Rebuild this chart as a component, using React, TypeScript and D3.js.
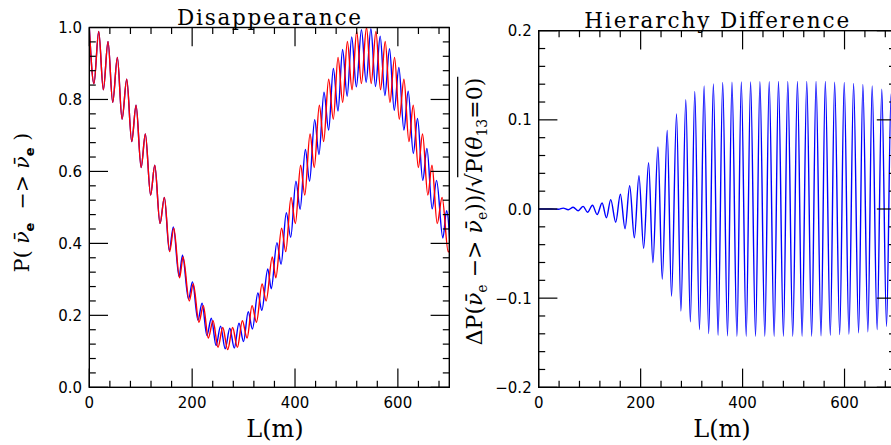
import React, { useEffect, useRef, useState } from 'react';
import * as d3 from 'd3';

const W = 891;
const H = 445;

// ---- Left panel: P(anti-nu_e -> anti-nu_e), extrema ----
const redL = [0, 9.1, 18.3, 27.3, 36.4, 45.5, 54.6, 63.7, 72.8, 82.5, 90.9, 100.8, 109.0, 119.2, 127.3, 137.5, 146.0, 156.2, 164.3, 175.5,
  182.4, 194.4, 202.2, 213.2, 221.7, 231.4, 240.6, 250.3, 259.5, 269.1, 278.7, 287.9, 297.6, 306.8, 316.5, 325.0, 336.0, 343.8, 355.8, 362.7,
  373.9, 382.0, 392.2, 400.7, 410.9, 419.0, 429.2, 437.4, 447.3, 455.7, 465.4, 474.5, 483.6, 492.7, 501.8, 510.9, 519.9, 529.1, 539.0, 548.1,
  557.3, 566.3, 575.4, 584.5, 593.6, 602.7, 611.8, 621.5, 629.9, 639.8, 648.0, 658.2, 666.3, 676.5, 686.0, 698.0, 706.0];
const redP = [1.000, 0.844, 0.989, 0.827, 0.961, 0.792, 0.917, 0.745, 0.856, 0.683, 0.784, 0.611, 0.704, 0.534, 0.617, 0.455, 0.528, 0.377, 0.442, 0.304,
  0.362, 0.240, 0.287, 0.181, 0.227, 0.137, 0.185, 0.111, 0.166, 0.105, 0.166, 0.111, 0.185, 0.137, 0.227, 0.181, 0.287, 0.240, 0.362, 0.304,
  0.442, 0.377, 0.528, 0.455, 0.617, 0.534, 0.704, 0.611, 0.784, 0.683, 0.856, 0.745, 0.917, 0.792, 0.961, 0.827, 0.989, 0.844, 1.000, 0.844,
  0.989, 0.827, 0.961, 0.792, 0.917, 0.745, 0.856, 0.683, 0.784, 0.611, 0.704, 0.534, 0.617, 0.455, 0.528, 0.376, 0.442];

const blueL = [0, 9.1, 18.3, 27.3, 36.4, 45.5, 54.6, 63.7, 72.8, 82.5, 90.9, 100.8, 109.0, 119.2, 127.3, 137.5, 146.0,
  155.5, 163.4, 174.5, 181.2, 192.9, 200.6, 211.2, 219.3, 228.6, 237.3, 246.5, 255.2, 264.2, 273.2, 281.9, 291.0, 299.9, 309.0,
  317.2, 327.8, 335.4, 347.1, 353.8, 364.8, 372.9, 383.1, 391.6, 401.8, 409.9, 420.1, 428.3, 438.2, 446.6, 456.3, 465.4, 474.5,
  483.6, 492.5, 501.4, 510.2, 519.3, 529.2, 538.3, 547.5, 556.5, 565.6, 574.7, 583.8, 592.9, 602.0, 611.7, 620.1, 630.0, 638.2,
  648.4, 656.5, 666.7, 675.2, 687.5, 694.7, 704.7];
const blueP = [1.000, 0.844, 0.989, 0.827, 0.961, 0.792, 0.917, 0.745, 0.856, 0.683, 0.784, 0.611, 0.704, 0.534, 0.617, 0.455, 0.528,
  0.380, 0.446, 0.308, 0.367, 0.245, 0.293, 0.187, 0.234, 0.144, 0.192, 0.116, 0.170, 0.107, 0.164, 0.109, 0.178, 0.127, 0.210,
  0.162, 0.262, 0.214, 0.329, 0.274, 0.402, 0.342, 0.485, 0.417, 0.573, 0.495, 0.661, 0.573, 0.744, 0.647, 0.820, 0.715, 0.886,
  0.768, 0.939, 0.809, 0.974, 0.835, 0.994, 0.848, 0.997, 0.836, 0.976, 0.811, 0.941, 0.770, 0.889, 0.715, 0.823, 0.650, 0.747,
  0.575, 0.664, 0.496, 0.575, 0.415, 0.491, 0.310];

// ---- Right panel: hierarchy difference, extrema ----
const diffL = [0, 25, 39, 48, 58, 67.6, 77.5, 87.2, 95.8, 105.5, 114.6, 124.4, 132.9, 141.3, 151.1, 160.2, 169.4, 178.5, 187.7, 196.7,
  205.9, 215.6, 224.1, 233.9, 242.4, 252.1, 260.6, 270.4, 279.0, 288.6, 297.5, 306.2, 315.4, 324.5, 333.5, 342.7, 351.9, 361.0, 370.4, 379.2,
  388.9, 397.5, 407.1, 415.7, 425.4, 434.0, 443.6, 452.2, 461.9, 470.4, 480.1, 488.7, 498.4, 507.6, 516.7, 525.9, 535.5, 544.1, 553.9, 562.3,
  572.1, 580.6, 590.5, 599.4, 608.6, 617.8, 627.6, 636.0, 645.8, 654.2, 664.0, 673.1, 682.4, 691.3, 700.5];
const diffV = [0, 0, -0.0003, 0.0010, -0.0008, 0.0020, -0.0019, 0.0030, -0.0037, 0.0042, -0.0062, 0.0068, -0.0098, 0.0105, -0.0148, 0.0165, -0.0222, 0.0260, -0.0324, 0.0374,
  -0.0442, 0.0520, -0.0603, 0.0697, -0.0787, 0.0880, -0.0978, 0.1067, -0.1145, 0.1225, -0.1266, 0.1318, -0.1352, 0.1380, -0.1397, 0.1404, -0.1416, 0.1419, -0.1423, 0.1423,
  -0.1427, 0.1425, -0.1427, 0.1426, -0.1427, 0.1427, -0.1427, 0.1428, -0.1427, 0.1430, -0.1427, 0.1430, -0.1427, 0.1432, -0.1427, 0.1432, -0.1427, 0.1432, -0.1423, 0.1430,
  -0.1416, 0.1423, -0.1408, 0.1420, -0.1404, 0.1408, -0.1390, 0.1397, -0.1378, 0.1380, -0.1352, 0.1345, -0.1315, 0.1290, -0.1260];

// ---- ticks ----
const xTickValues = [0, 200, 400, 600];
const xTickLabels = ['0', '200', '400', '600'];
const leftYTickValues = [0, 0.2, 0.4, 0.6, 0.8, 1.0];
const leftYTickLabels = ['0.0', '0.2', '0.4', '0.6', '0.8', '1.0'];
const rightYTickValues = [-0.2, -0.1, 0, 0.1, 0.2];
const rightYTickLabels = ['\u22120.2', '\u22120.1', '0.0', '0.1', '0.2'];

const SANS = 'DejaVu Sans, sans-serif';
const SERIF = 'DejaVu Serif, serif';

type PanelProps = {
  id: string;
  x0: number; x1: number; y0: number; y1: number;
  xDomain: [number, number];
  yDomain: [number, number];
  yMajorStep: number;
  yTicks: number[];
  yLabels: string[];
  labelRight: number;
  series: { L: number[]; V: number[]; color: string }[];
};

function Panel(p: PanelProps) {
  const xs = d3.scaleLinear().domain(p.xDomain).range([p.x0, p.x1]);
  const ys = d3.scaleLinear().domain(p.yDomain).range([p.y1, p.y0]);
  const majorLen = 18.7;
  const minorLen = 6.5;
  const xMinor = d3.range(p.xDomain[0], p.xDomain[1] + 0.001, 40).filter((v) => Math.abs(v % 200) > 1e-6);
  const yMinorStep = p.yMajorStep / 5;
  const nMinor = Math.round((p.yDomain[1] - p.yDomain[0]) / yMinorStep);
  const yMinor = d3.range(0, nMinor + 1).map((i) => p.yDomain[0] + i * yMinorStep).filter((v, i) => i % 5 !== 0);
  const tickStyle = { stroke: '#000', strokeWidth: 1.2 };
  return (
    <g>
      <defs>
        <clipPath id={p.id}>
          <rect x={p.x0} y={p.y0} width={p.x1 - p.x0} height={p.y1 - p.y0} />
        </clipPath>
      </defs>
      <g clipPath={`url(#${p.id})`}>
        {p.series.map((s, k) => {
          const line = d3.line<number>()
            .x((d, i) => xs(s.L[i]))
            .y((d) => ys(d))
            .curve(d3.curveMonotoneX);
          return <path key={k} d={line(s.V) || ''} fill="none" stroke={s.color} strokeWidth={1.4} />;
        })}
      </g>
      {/* x ticks */}
      {xTickValues.map((v) => (
        <g key={'xm' + v}>
          <line x1={xs(v)} x2={xs(v)} y1={p.y1} y2={p.y1 - majorLen} {...tickStyle} />
          <line x1={xs(v)} x2={xs(v)} y1={p.y0} y2={p.y0 + majorLen} {...tickStyle} />
        </g>
      ))}
      {xMinor.map((v) => (
        <g key={'xn' + v}>
          <line x1={xs(v)} x2={xs(v)} y1={p.y1} y2={p.y1 - minorLen} {...tickStyle} />
          <line x1={xs(v)} x2={xs(v)} y1={p.y0} y2={p.y0 + minorLen} {...tickStyle} />
        </g>
      ))}
      {/* y ticks */}
      {p.yTicks.map((v) => (
        <g key={'ym' + v}>
          <line x1={p.x0} x2={p.x0 + majorLen} y1={ys(v)} y2={ys(v)} {...tickStyle} />
          <line x1={p.x1} x2={p.x1 - majorLen} y1={ys(v)} y2={ys(v)} {...tickStyle} />
        </g>
      ))}
      {yMinor.map((v, i) => (
        <g key={'yn' + i}>
          <line x1={p.x0} x2={p.x0 + minorLen} y1={ys(v)} y2={ys(v)} {...tickStyle} />
          <line x1={p.x1} x2={p.x1 - minorLen} y1={ys(v)} y2={ys(v)} {...tickStyle} />
        </g>
      ))}
      <rect x={p.x0} y={p.y0} width={p.x1 - p.x0} height={p.y1 - p.y0} fill="none" stroke="#000" strokeWidth={1.4} />
      {/* tick labels */}
      {xTickValues.map((v, i) => (
        <text key={'xl' + v} x={xs(v)} y={408} textAnchor="middle" fontFamily={SANS} fontSize={15} fill="#000">
          {xTickLabels[i]}
        </text>
      ))}
      {p.yTicks.map((v, i) => (
        <text key={'yl' + v} x={p.labelRight} y={ys(v) + 5.5} textAnchor="end" fontFamily={SANS} fontSize={15} fill="#000">
          {p.yLabels[i]}
        </text>
      ))}
    </g>
  );
}

export default function App() {
  const rightLabelRef = useRef<SVGTextElement>(null);
  const [bar, setBar] = useState<{ x1: number; x2: number } | null>(null);

  useEffect(() => {
    const el = rightLabelRef.current;
    if (!el) return;
    try {
      const n = el.getNumberOfChars();
      const start = el.getStartPositionOfChar(n - 8).x;
      const end = el.getEndPositionOfChar(n - 1).x;
      setBar({ x1: start - 4, x2: end + 1 });
    } catch (e) {
      setBar(null);
    }
  }, []);

  return (
    <svg width={W} height={H} style={{ position: 'absolute', left: 0, top: 0, background: '#fff' }}>
      <rect x={0} y={0} width={W} height={H} fill="#fff" />
      <Panel
        id="clipLeft"
        x0={89.3} x1={449.3} y0={27.5} y1={387.3}
        xDomain={[0, 700]} yDomain={[0, 1]}
        yMajorStep={0.2}
        yTicks={leftYTickValues} yLabels={leftYTickLabels}
        labelRight={82}
        series={[
          { L: blueL, V: blueP, color: '#0000ff' },
          { L: redL, V: redP, color: '#ff0000' },
        ]}
      />
      <Panel
        id="clipRight"
        x0={538.7} x1={895.5} y0={30.7} y1={387.3}
        xDomain={[0, 700]} yDomain={[-0.2, 0.2]}
        yMajorStep={0.1}
        yTicks={rightYTickValues} yLabels={rightYTickLabels}
        labelRight={531.7}
        series={[{ L: diffL, V: diffV, color: '#0000ff' }]}
      />

      {/* titles */}
      <text x={269} y={25} textAnchor="middle" fontFamily={SERIF} fontSize={21.5} textLength={184} lengthAdjust="spacing" fill="#000">
        Disappearance
      </text>
      <text x={716.7} y={28} textAnchor="middle" fontFamily={SERIF} fontSize={21.5} textLength={265} lengthAdjust="spacing" fill="#000">
        Hierarchy Difference
      </text>

      {/* x axis titles */}
      <text x={275} y={437} textAnchor="middle" fontFamily={SERIF} fontSize={24} fill="#000">L(m)</text>
      <text x={722} y={437} textAnchor="middle" fontFamily={SERIF} fontSize={24} fill="#000">L(m)</text>

      {/* left y label */}
      <g transform="translate(28.5,202.5) rotate(-90)">
        <text textAnchor="middle" fontFamily={SERIF} fontSize={20.5} fill="#000" style={{ whiteSpace: 'pre' }}>
          <tspan>{'P( '}</tspan>
          <tspan fontStyle="italic">{'\u03BD\u0304'}</tspan>
          <tspan dy={5} fontSize={13} fontFamily={SANS} fontWeight="bold">e</tspan>
          <tspan dy={-5}>{'  \u2212> '}</tspan>
          <tspan fontStyle="italic">{'\u03BD\u0304'}</tspan>
          <tspan dy={5} fontSize={13} fontFamily={SANS} fontWeight="bold">e</tspan>
          <tspan dy={-5}>{' )'}</tspan>
        </text>
      </g>

      {/* right y label */}
      <g transform="translate(481.7,211.5) rotate(-90)">
        <text ref={rightLabelRef} textAnchor="middle" fontFamily={SERIF} fontSize={22} fill="#000" style={{ whiteSpace: 'pre' }}>
          <tspan>{'\u0394P('}</tspan>
          <tspan fontStyle="italic">{'\u03BD\u0304'}</tspan>
          <tspan dy={5} fontSize={14}>e</tspan>
          <tspan dy={-5}>{' \u2212> '}</tspan>
          <tspan fontStyle="italic">{'\u03BD\u0304'}</tspan>
          <tspan dy={5} fontSize={14}>e</tspan>
          <tspan dy={-5}>{'))/\u221A'}</tspan>
          <tspan>{'P('}</tspan>
          <tspan fontStyle="italic">{'\u03B8'}</tspan>
          <tspan dy={5} fontSize={14}>13</tspan>
          <tspan dy={-5}>{'=0)'}</tspan>
        </text>
        {bar && <line x1={bar.x1} x2={bar.x2} y1={-24} y2={-24} stroke="#000" strokeWidth={1.3} />}
      </g>
    </svg>
  );
}
